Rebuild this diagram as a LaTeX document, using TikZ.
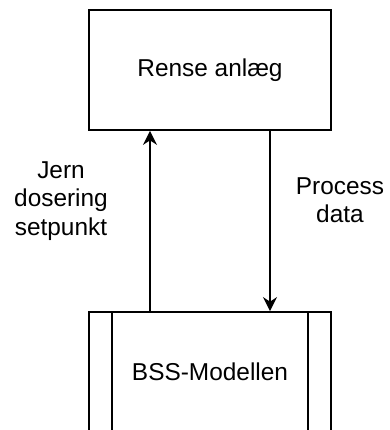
\documentclass[tikz,border=0pt]{standalone}
\usepackage{fontspec}
\setmainfont{Liberation Sans}
\usetikzlibrary{arrows.meta}
\tikzset{
    unitbox/.style={draw, line width=1.8bp, minimum width=242bp,
        minimum height=120bp, inner sep=0pt},
    flow/.style={line width=1.8bp, -{Stealth[length=14bp, width=14bp]}},
    flowlabel/.style={align=center, font=\fontsize{24.5}{28.5}\selectfont},
}

\begin{document}
\begin{tikzpicture}[x=1bp, y=-1bp, font=\fontsize{24.5}{28.5}\selectfont]
        \useasboundingbox (0, 0) rectangle (390, 430);
        \clip (0, 0) rectangle (390, 430);
        \node[unitbox] (rense) at (210, 70) {Rense anlæg};
        \node[unitbox] (bss) at (210, 372) {BSS-Modellen};
        \draw[line width=1.8bp] ([xshift=24bp]bss.north west)
            -- ([xshift=24bp]bss.south west);
        \draw[line width=1.8bp] ([xshift=-24bp]bss.north east)
            -- ([xshift=-24bp]bss.south east);

        \coordinate (setbase) at ([xshift=-60bp]bss.north);
        \coordinate (settop) at ([xshift=-60bp]rense.south);
        \coordinate (datatop) at ([xshift=60bp]rense.south);
        \coordinate (database) at ([xshift=60bp]bss.north);
        \draw[flow] (setbase) -- (settop);
        \draw[flow] (datatop) -- (database);

        \node[flowlabel] (setlabel) at (61, 201) {Jern\\dosering\\setpunkt};
        \node[flowlabel] (datalabel) at (340, 200) {Process\\data};
    \end{tikzpicture}
\end{document}
